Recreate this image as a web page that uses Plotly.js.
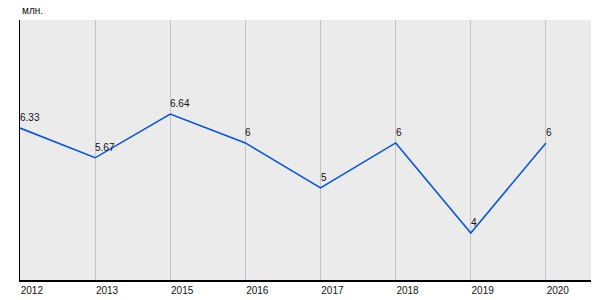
<!DOCTYPE html>
<html>
<head>
<meta charset="utf-8">
<script src="https://cdn.plot.ly/plotly-3.0.1.min.js"></script>
<style>html,body{margin:0;padding:0;background:#fff;}#chart{width:600px;height:300px;}</style>
</head>
<body>
<div id="chart"></div>
<script>
var years = ["2012","2013","2015","2016","2017","2018","2019","2020"];
var values = [6.33, 5.67, 6.64, 6, 5, 6, 4, 6];
var labels = ["6.33","5.67","6.64","6","5","6","4","6"];
var unitLabel = "млн.";

var trace = {
  type: "scatter",
  mode: "lines",
  x: years,
  y: values,
  line: {color: "#0050e6", width: 1.5},
  hoverinfo: "none",
  cliponaxis: false
};

var annotations = years.map(function (yr, i) {
  return {
    x: i, y: values[i], xref: "x", yref: "y",
    text: labels[i],
    showarrow: false,
    xanchor: "left", yanchor: "bottom",
    xshift: -2, yshift: 3,
    font: {family: "Arial, Liberation Sans, sans-serif", size: 10, color: "#111"}
  };
});
annotations.push({
  text: unitLabel,
  xref: "paper", yref: "paper",
  x: 0, y: 1, xanchor: "left", yanchor: "bottom",
  yshift: 2,
  showarrow: false,
  font: {size: 10, color: "#111"}
});

var layout = {
  width: 600, height: 300,
  margin: {l: 20, r: 9, t: 20, b: 20},
  paper_bgcolor: "#ffffff",
  plot_bgcolor: "#ebebeb",
  showlegend: false,
  font: {family: "Arial, Liberation Sans, sans-serif", size: 10, color: "#111"},
  xaxis: {
    type: "category",
    range: [0, 7.6],
    showgrid: true,
    gridcolor: "#c4c4c4",
    gridwidth: 1,
    showline: true,
    linecolor: "#000",
    linewidth: 1.5,
    ticks: "",
    ticklabelposition: "outside right",
    tickfont: {size: 10, color: "#111"},
    zeroline: false,
    fixedrange: true
  },
  yaxis: {
    range: [2.956, 8.73],
    showgrid: false,
    showline: true,
    linecolor: "#000",
    linewidth: 1.5,
    showticklabels: false,
    ticks: "",
    zeroline: false,
    fixedrange: true
  },
  annotations: annotations
};

Plotly.newPlot("chart", [trace], layout, {displayModeBar: false, staticPlot: true});
</script>
</body>
</html>
